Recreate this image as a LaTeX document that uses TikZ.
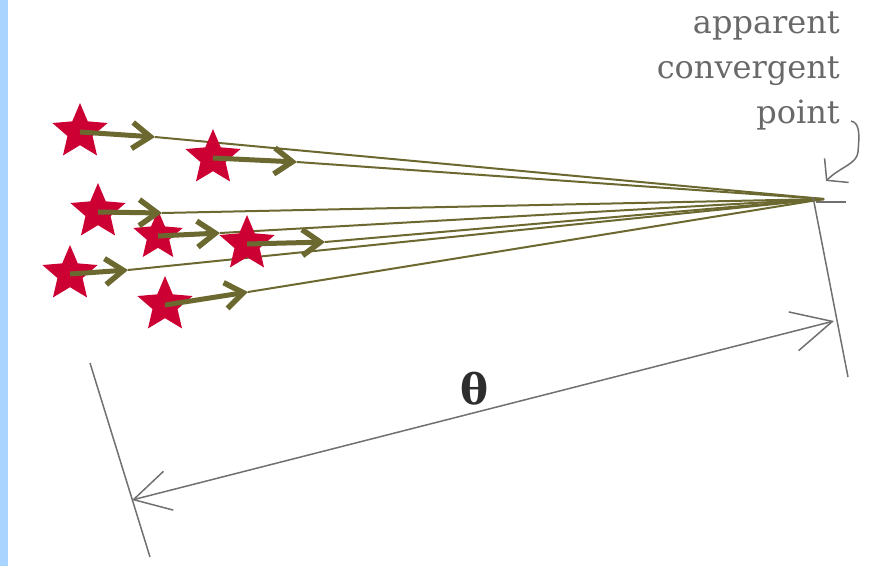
\documentclass[tikz,border=0pt]{standalone}
\usepackage{fontspec}
\setmainfont{DejaVu Serif}
\newfontfamily\thetafont{DejaVu Serif}
\usetikzlibrary{arrows.meta,shapes.geometric}
\definecolor{barblue}{RGB}{168,212,255}
\definecolor{starred}{RGB}{204,0,51}
\definecolor{olive}{RGB}{107,104,48}
\definecolor{dimgray}{RGB}{112,112,112}
\definecolor{txtgray}{RGB}{105,105,105}
\definecolor{thetagray}{RGB}{45,45,45}
\tikzset{
  starnode/.style={star, star points=5, star point ratio=2.2, minimum size=58pt, inner sep=0pt, fill=starred, draw=none},
  motion/.style={draw=olive, line width=5pt, -{Straight Barb[length=18pt,width=26pt,line width=5.5pt]}},
  sightline/.style={draw=olive, line width=2pt},
  dimline/.style={draw=dimgray, line width=1.5pt},
  labeltext/.style={text=txtgray, font=\fontsize{32}{36}\selectfont, inner sep=0pt, anchor=base east}
}
\begin{document}
\begin{tikzpicture}[x=1pt,y=-1pt]
\useasboundingbox (0,0) rectangle (883,566);
\fill[barblue] (0,0) rectangle (8,566);
% convergent point
\coordinate (C) at (824,199);
% arrow tips
\coordinate (t1) at (155,137);
\coordinate (t2) at (297,162);
\coordinate (t3) at (162,213);
\coordinate (t4) at (220,233);
\coordinate (t5) at (325,242);
\coordinate (t6) at (128,270);
\coordinate (t7) at (248,292);
% sight lines
\foreach \i in {1,...,7} \draw[sightline] (t\i) -- (C);
% stars
\node[starnode] (s1) at (80,132) {};
\node[starnode] (s2) at (213,158) {};
\node[starnode] (s3) at (98,212) {};
\node[starnode, minimum size=52pt] (s4) at (158,236) {};
\node[starnode] (s5) at (247,244) {};
\node[starnode] (s6) at (70,274) {};
\node[starnode] (s7) at (165,305) {};
% motion arrows
\foreach \i in {1,...,7} \draw[motion] (s\i.center) -- (t\i);
% small cross at convergent point
\coordinate (cx1) at (816,202);
\coordinate (cx2) at (846,202);
\draw[dimline] (cx1) -- (cx2);
% extension lines
\coordinate (e1a) at (90,363);
\coordinate (e1b) at (150,557);
\coordinate (e2a) at (813,197);
\coordinate (e2b) at (848,377);
\draw[dimline] (e1a) -- (e1b);
\draw[dimline] (e2a) -- (e2b);
% dimension line
\coordinate (dL) at (132,500);
\coordinate (dR) at (834,321);
\draw[dimline, {Straight Barb[length=36pt,width=40pt]}-{Straight Barb[length=40pt,width=40pt]}] (dL) -- (dR);
\node[text=thetagray, font=\thetafont\bfseries\fontsize{42}{44}\selectfont, inner sep=0pt] (theta) at (475,389) {θ};
% label
\node[labeltext] (l1) at (840,33) {apparent};
\node[labeltext] (l2) at (840,78) {convergent};
\node[labeltext] (l3) at (840,123) {point};
\coordinate (cs) at (851,121);
\coordinate (ct) at (826,181);
\draw[dimline, -{Straight Barb[length=14pt,width=34pt]}] (cs) .. controls (861,123) and (859,138) .. (858,152) .. controls (857,164) and (840,167) .. (ct);
\end{tikzpicture}
\end{document}
